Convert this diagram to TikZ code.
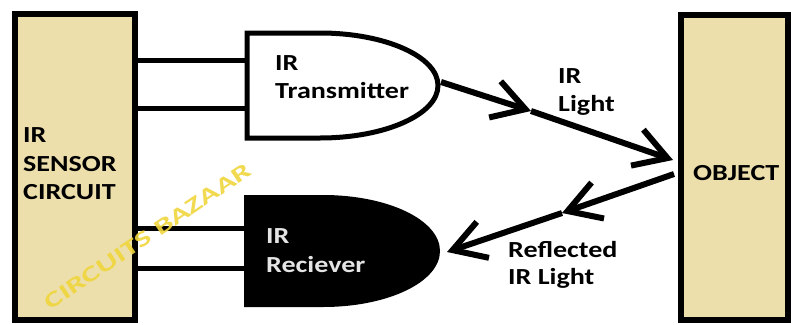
\documentclass[tikz,border=0pt]{standalone}
\usepackage{fontspec}
\newfontfamily\lbl{Carlito}[FakeStretch=1.22]
\newfontfamily\wmk{Carlito}
\usetikzlibrary{arrows.meta}
\definecolor{boxtan}{RGB}{236,223,172}
\definecolor{wmyellow}{RGB}{240,214,60}
\definecolor{rxtext}{RGB}{228,228,228}
\begin{document}
\begin{tikzpicture}[x=1pt,y=-1pt,
  box/.style={draw=black, line width=6pt, fill=boxtan, inner sep=0pt},
  wire/.style={line width=5pt},
  ray/.style={line width=6pt, -{Straight Barb[length=32pt,width=38pt]}},
  lab/.style={font=\lbl\bfseries\fontsize{23}{28}\selectfont, anchor=base west, inner sep=0pt},
]
\useasboundingbox (0,0) rectangle (791,324);
\fill[white] (0,0) rectangle (791,324);

% boxes
\node[box, minimum width=120pt, minimum height=306.5pt] (sensor) at (74.5,166.75) {};
\node[box, minimum width=107pt, minimum height=305pt] (object) at (734.5,167.5) {};

% transmitter
\coordinate (t1) at (247,60);
\coordinate (t2) at (247,108);
\coordinate (txout) at (441,82);
\draw[wire, line join=miter] (320,33) -- (247,33) -- (247,138) -- (320,138)
  .. controls (385,138) and (438,114.5) .. (438,85.5)
  .. controls (438,56.5) and (385,33) .. cycle;

% receiver
\coordinate (r1) at (245,228);
\coordinate (r2) at (245,268);
\coordinate (rxin) at (447,252);
\fill (244,195) -- (323,195) .. controls (388,195) and (440,220) .. (440,251)
  .. controls (440,282) and (388,307) .. (323,307) -- (244,307) -- cycle;

% wires
\draw[wire] (t1 -| sensor.east) -- (t1);
\draw[wire] (t2 -| sensor.east) -- (t2);
\draw[wire] (r1 -| sensor.east) -- (r1);
\draw[wire] (r2 -| sensor.east) -- (r2);

% rays
\coordinate (m1) at (531,111);
\coordinate (e1) at (673,160);
\coordinate (s2) at (674,174);
\coordinate (m2) at (562,213);
\draw[ray] (txout) -- (m1);
\draw[ray] (m1) -- (e1);
\draw[ray] (s2) -- (m2);
\draw[ray] (m2) -- (rxin);

% labels
\node[lab] (sn1) at (23,142) {IR};
\node[lab] (sn2) at (23,171) {SENSOR};
\node[lab] (sn3) at (23,199.5) {CIRCUIT};
\node[lab] (tx1) at (275,70) {IR};
\node[lab] (tx2) at (275,98) {Transmitter};
\node[lab, text=rxtext] (rx1) at (266,243) {IR};
\node[lab, text=rxtext] (rx2) at (266,272) {Reciever};
\node[lab] (il1) at (558,83) {IR};
\node[lab] (il2) at (558,111) {Light};
\node[lab] (rl1) at (508,257) {Reflected};
\node[lab] (rl2) at (508,284) {IR Light};
\node[lab] (obj) at (693,180) {OBJECT};

% watermark
\node[rotate=34, text=wmyellow, opacity=0.9, inner sep=0pt,
  font=\wmk\bfseries\fontsize{22}{22}\selectfont] (wm) at (148,236)
  {\scalebox{1.5}[1]{CIRCUITS BAZAAR}};
\end{tikzpicture}
\end{document}
